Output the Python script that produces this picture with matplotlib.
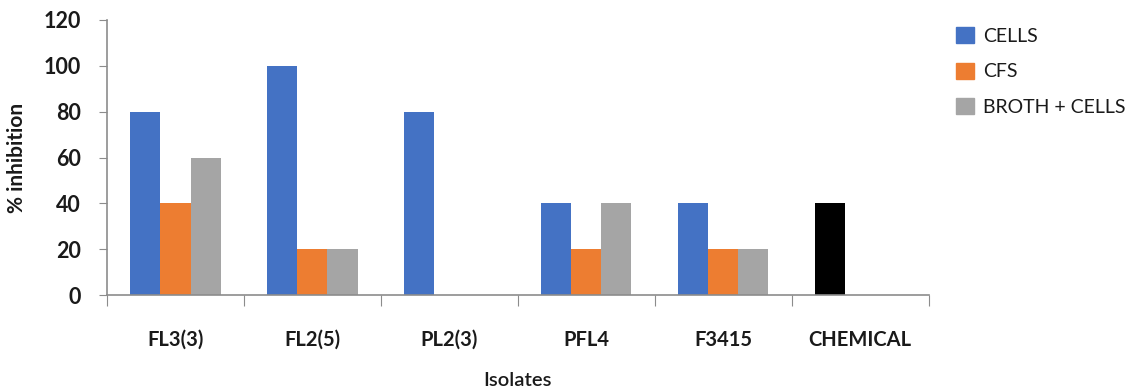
import matplotlib
matplotlib.use("Agg")
import matplotlib.pyplot as plt
import numpy as np

categories = ["FL3(3)", "FL2(5)", "PL2(3)", "PFL4", "F3415", "CHEMICAL"]
cells = [80, 100, 80, 40, 40, 40]
cfs = [40, 20, 0, 20, 20, 0]
broth_cells = [60, 20, 0, 40, 20, 0]
series_names = ["CELLS", "CFS", "BROTH + CELLS"]
yticks = [0, 20, 40, 60, 80, 100, 120]

blue = "#4472C4"
orange = "#ED7D31"
gray = "#A5A5A5"
txt = "#1a1a1a"

plt.rcParams['font.family'] = ['Lato', 'DejaVu Sans']

fig = plt.figure(figsize=(11.31, 3.89), dpi=100)
ax = fig.add_axes([0.0946, 0.2416, 0.7264, 0.707])

x = np.arange(len(categories))
w = 0.22
cell_colors = [blue] * (len(categories) - 1) + ["black"]
ax.bar(x - w, cells, w, color=cell_colors, label=series_names[0])
ax.bar(x, cfs, w, color=orange, label=series_names[1])
ax.bar(x + w, broth_cells, w, color=gray, label=series_names[2])

ax.set_xlim(-0.5, len(categories) - 0.5)
ax.set_ylim(0, 120)
ax.set_yticks(yticks)
ax.set_yticklabels([str(v) for v in yticks], fontsize=15.5, fontweight='bold', color=txt)

ax.set_xticks(np.arange(len(categories) + 1) - 0.5)
ax.set_xticklabels([])
ax.set_xticks(x, minor=True)
ax.set_xticklabels(categories, minor=True, fontsize=14.5, fontweight='bold', color=txt)
ax.tick_params(axis='x', which='major', length=8, color='#8c8c8c', direction='out')
ax.tick_params(axis='x', which='minor', length=0, pad=25)
ax.tick_params(axis='y', length=6, color='#8c8c8c', pad=13)

for s in ['top', 'right']:
    ax.spines[s].set_visible(False)
for s in ['left', 'bottom']:
    ax.spines[s].set_color('#8c8c8c')
    ax.spines[s].set_linewidth(1.2)

ax.set_ylabel("% inhibition", fontsize=15, fontweight='bold', color=txt, labelpad=12)
ax.set_xlabel("Isolates", fontsize=14.5, fontweight='semibold', color=txt, labelpad=16)

handles = [plt.Rectangle((0, 0), 1, 1, color=c) for c in [blue, orange, gray]]
fig.legend(handles, series_names, loc='upper left', bbox_to_anchor=(0.830, 0.975),
           frameon=False, fontsize=14, handlelength=0.9, handleheight=0.9,
           handletextpad=0.5, labelspacing=0.9, labelcolor=txt)

fig.savefig("out.png", dpi=100)
